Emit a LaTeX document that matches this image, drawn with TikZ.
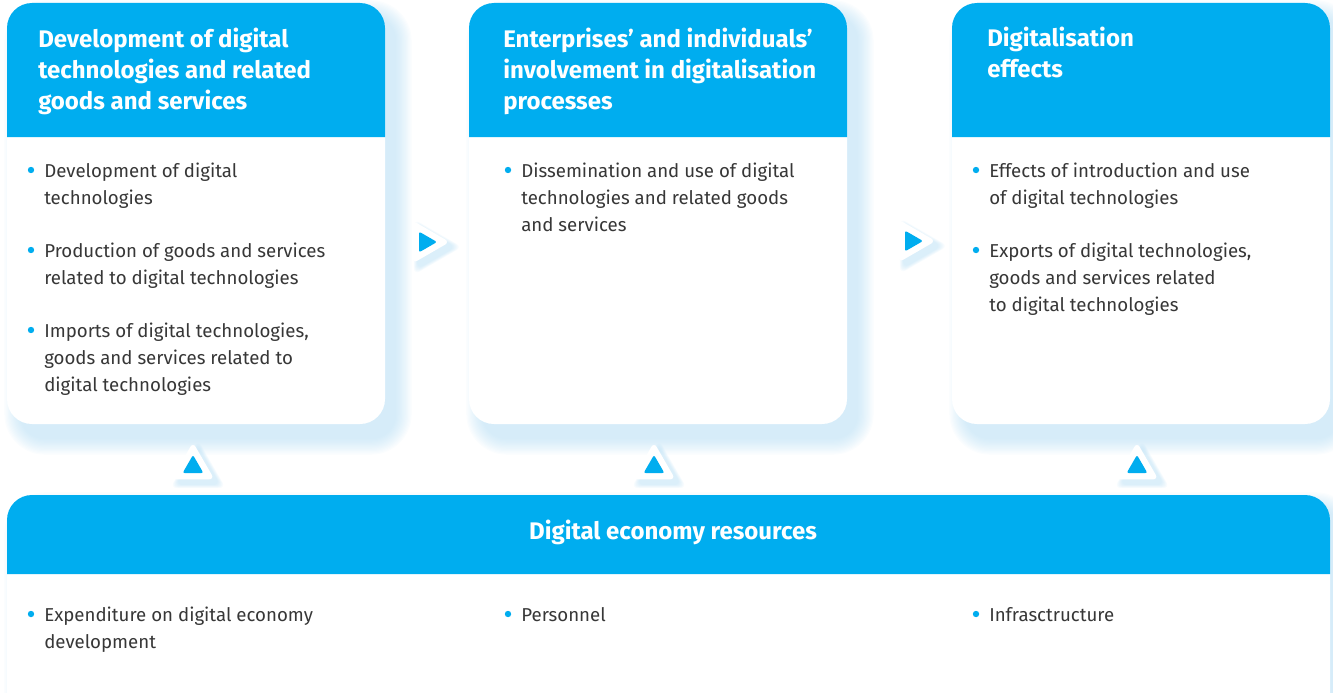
\documentclass[tikz,border=0pt]{standalone}
\usepackage{fontspec}
\setmainfont{Fira Sans}
\usetikzlibrary{positioning, shapes.geometric}

\definecolor{hdblue}{RGB}{0,173,239}
\definecolor{txtgray}{RGB}{55,55,55}
\definecolor{glow}{RGB}{165,214,242}

% soft light-blue shadow under a panel: x1,y1,x2,y2
\newcommand{\glowbox}[4]{%
  \foreach \g in {1,...,14}{%
    \pgfmathsetmacro{\gr}{18+0.9*\g}%
    \fill[glow, opacity=.042, rounded corners=\gr pt]
      (#1+14-1.2*\g, #2+14-1.2*\g) rectangle (#3+10+1.2*\g, #4+14+1.2*\g);
  }}

\begin{document}
\begin{tikzpicture}[x=0.75pt,y=0.75pt,yscale=-1,xscale=1,
  head/.style={anchor=base west, inner sep=0pt, align=left, text=white,
    font=\fontsize{18}{23.25}\selectfont\bfseries},
  item/.style={anchor=base west, inner sep=0pt, align=left, text=txtgray,
    font=\fontsize{14}{20.25}\selectfont},
  dot/.style={fill=hdblue},
  tri/.style={regular polygon, regular polygon sides=3, inner sep=0pt},
  icon/.style={tri, fill=white, minimum size=37pt, rounded corners=4pt},
  icontip/.style={tri, fill=hdblue, minimum size=18pt, rounded corners=1.5pt},
  iconglow/.style={tri, fill=glow, opacity=.07, rounded corners=5pt}]
\useasboundingbox (0,0) rectangle (1333,692);
\clip (0,0) rectangle (1333,692);

%Shadows of the panels
\glowbox{7}{3}{385}{424}
\glowbox{469}{3}{847}{424}
\glowbox{952}{3}{1330}{424}
\glowbox{7}{495}{1330}{740}

%Panel bodies
\fill[white, rounded corners=18.75pt] (7,3) rectangle (385,424);
\fill[white, rounded corners=18.75pt] (469,3) rectangle (847,424);
\fill[white, rounded corners=18.75pt] (952,3) rectangle (1330,424);
\fill[white, rounded corners=18.75pt] (7,495) rectangle (1330,740);

%Panel headers
\fill[hdblue, rounded corners=18.75pt] (7,137) |- (385,3) -- (385,137);
\fill[hdblue, rounded corners=18.75pt] (469,137) |- (847,3) -- (847,137);
\fill[hdblue, rounded corners=18.75pt] (952,137) |- (1330,3) -- (1330,137);
\fill[hdblue, rounded corners=18.75pt] (7,574) |- (1330,495) -- (1330,574);

% Text Node (placed at the baseline of its last line)
\node[head] (devhead) at (38,109) {Development of digital\\technologies and related\\goods and services};
% Text Node
\node[head] (usehead) at (503,109) {Enterprises’ and individuals’\\involvement in digitalisation\\processes};
% Text Node
\node[head] (effhead) at (987,78) {Digitalisation\\effects};
% Text Node
\node[head, anchor=base] (reshead) at (673,539) {Digital economy resources};

%Bullet items, first panel
\fill[dot] (31,170) circle (2.4pt);
\node[item] (dev1) at (44,204) {Development of digital\\technologies};
\fill[dot] (31,250) circle (2.4pt);
\node[item] (dev2) at (44,284) {Production of goods and services\\related to digital technologies};
\fill[dot] (31,330) circle (2.4pt);
\node[item] (dev3) at (44,391) {Imports of digital technologies,\\goods and services related to\\digital technologies};

%Bullet items, second panel
\fill[dot] (508,170) circle (2.4pt);
\node[item] (use1) at (521,231) {Dissemination and use of digital\\technologies and related goods\\and services};

%Bullet items, third panel
\fill[dot] (976,170) circle (2.4pt);
\node[item] (eff1) at (989,204) {Effects of introduction and use\\of digital technologies};
\fill[dot] (976,250) circle (2.4pt);
\node[item] (eff2) at (989,311) {Exports of digital technologies,\\goods and services related\\to digital technologies};

%Bullet items, resources
\fill[dot] (31,614) circle (2.4pt);
\node[item] (res1) at (44,648) {Expenditure on digital economy\\development};
\fill[dot] (508,614) circle (2.4pt);
\node[item] (res2) at (521,621) {Personnel};
\fill[dot] (976,614) circle (2.4pt);
\node[item] (res3) at (989,621) {Infrasctructure};

%Right pointing markers
\foreach \g in {1,...,7}{
  \node[iconglow, shape border rotate=-90, minimum size=37pt+1.6*\g pt] (rg\g) at (430,247) {};
  \node[iconglow, shape border rotate=-90, minimum size=37pt+1.6*\g pt] (sg\g) at (916,246) {};
}
\node[icon, shape border rotate=-90] (right1) at (425,242) {};
\node[icontip, shape border rotate=-90] (tip1) at (right1.center) {};
\node[icon, shape border rotate=-90] (right2) at (911,241) {};
\node[icontip, shape border rotate=-90] (tip2) at (right2.center) {};

%Upward markers
\foreach \x [count=\k] in {193,654,1137}{
  \foreach \g in {1,...,7}
    \node[iconglow, minimum size=37pt+1.6*\g pt] (ug\k\g) at (\x+5,472) {};
  \node[icon] (up\k) at (\x,467) {};
  \node[icontip] (uptip\k) at (up\k.center) {};
}
\end{tikzpicture}
\end{document}
